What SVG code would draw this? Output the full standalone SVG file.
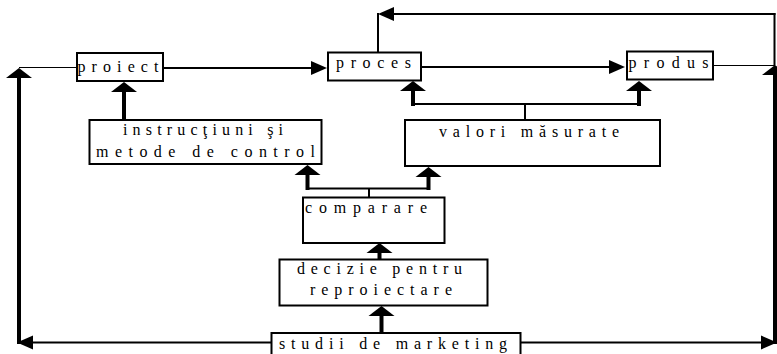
<svg xmlns="http://www.w3.org/2000/svg" width="777" height="354" viewBox="0 0 777 354">
<style>
.box{fill:#fff;stroke:#000;stroke-width:2}
.t{font-family:"Liberation Serif","Times New Roman",serif;font-size:16px;fill:#000}
.thin{stroke:#000;stroke-width:1;fill:none}
.med{stroke:#000;stroke-width:2;fill:none}
.thk{stroke:#000;stroke-width:4;fill:none}
</style>
<defs>
<marker id="ahV" markerUnits="userSpaceOnUse" viewBox="0 -14 10 28" refX="0" refY="0" markerWidth="10" markerHeight="28" orient="auto" overflow="visible"><path d="M0,-13 L10,0 L0,13 z" fill="#000"/></marker>
<marker id="ahH" markerUnits="userSpaceOnUse" viewBox="0 -7 16 14" refX="0" refY="0" markerWidth="16" markerHeight="14" orient="auto" overflow="visible"><path d="M0,-7 L16,0 L0,7 z" fill="#000"/></marker>
</defs>
<g id="connectors">
<line class="thin" x1="19" y1="67.5" x2="77" y2="67.5"/>
<line class="thk" x1="19" y1="344" x2="19" y2="78" marker-end="url(#ahV)"/>
<line class="med" x1="271" y1="342.5" x2="33" y2="342.5" marker-end="url(#ahH)"/>
<line class="med" x1="520" y1="342.5" x2="761" y2="342.5" marker-end="url(#ahH)"/>
<line class="thk" x1="775" y1="344" x2="775" y2="75" marker-end="url(#ahV)"/>
<line class="thin" x1="712" y1="65.5" x2="775" y2="65.5"/>
<line class="med" x1="774.5" y1="65" x2="774.5" y2="13"/>
<line class="med" x1="775.5" y1="14" x2="394" y2="14" marker-end="url(#ahH)"/>
<line class="med" x1="378" y1="13" x2="378" y2="52"/>
<line class="med" x1="164" y1="68" x2="311" y2="68" marker-end="url(#ahH)"/>
<line class="med" x1="422" y1="67" x2="609" y2="67" marker-end="url(#ahH)"/>
<line class="thk" x1="124" y1="120" x2="124" y2="92" marker-end="url(#ahV)"/>
<line class="med" x1="525" y1="120" x2="525" y2="104"/>
<line class="med" x1="412" y1="104" x2="640" y2="104"/>
<line class="thk" x1="413" y1="106" x2="413" y2="91" marker-end="url(#ahV)"/>
<line class="thk" x1="639" y1="106" x2="639" y2="91" marker-end="url(#ahV)"/>
<line class="med" x1="369" y1="197" x2="369" y2="188"/>
<line class="med" x1="306" y1="188.5" x2="430" y2="188.5"/>
<line class="thk" x1="307.5" y1="190" x2="307.5" y2="175" marker-end="url(#ahV)"/>
<line class="thk" x1="428.5" y1="190" x2="428.5" y2="177" marker-end="url(#ahV)"/>
<line class="thk" x1="379.5" y1="260" x2="379.5" y2="253" marker-end="url(#ahV)"/>
<line class="thk" x1="381.5" y1="333" x2="381.5" y2="316" marker-end="url(#ahV)"/>
</g>
<g id="proiect">
<rect class="box" x="77" y="53" width="86" height="28"/>
<text class="t" x="77.5" y="72" textLength="81" lengthAdjust="spacing">proiect</text>
</g>
<g id="proces">
<rect class="box" x="328" y="52.5" width="93" height="28"/>
<text class="t" x="336" y="68" textLength="75" lengthAdjust="spacing">proces</text>
</g>
<g id="produs">
<rect class="box" x="627" y="51.5" width="86" height="28"/>
<text class="t" x="628.5" y="68" textLength="80" lengthAdjust="spacing">produs</text>
</g>
<g id="instructiuni">
<rect class="box" x="89.5" y="120" width="232" height="44"/>
<text class="t" x="123" y="135" textLength="160" lengthAdjust="spacing">instrucţiuni şi</text>
<text class="t" x="96" y="157" textLength="219" lengthAdjust="spacing">metode de control</text>
</g>
<g id="valori">
<rect class="box" x="405" y="120" width="255" height="46"/>
<text class="t" x="439" y="137" textLength="180" lengthAdjust="spacing">valori măsurate</text>
</g>
<g id="comparare">
<rect class="box" x="303" y="197.5" width="141.5" height="45.5"/>
<text class="t" x="305" y="213" textLength="122" lengthAdjust="spacing">comparare</text>
</g>
<g id="decizie">
<rect class="box" x="279.5" y="259.5" width="208" height="46"/>
<text class="t" x="297" y="274" textLength="165" lengthAdjust="spacing">decizie pentru</text>
<text class="t" x="310" y="295" textLength="142" lengthAdjust="spacing">reproiectare</text>
</g>
<g id="studii">
<rect class="box" x="271.5" y="333" width="249" height="30"/>
<text class="t" x="279" y="349" textLength="228" lengthAdjust="spacing">studii de marketing</text>
</g>
</svg>
